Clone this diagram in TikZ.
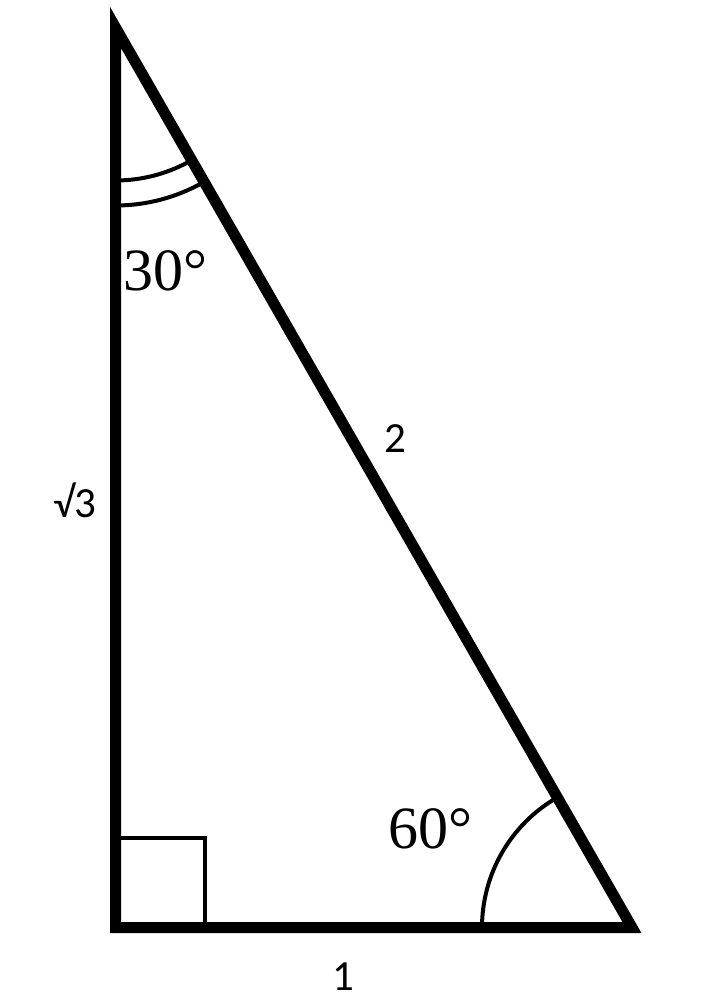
\documentclass[tikz,border=0pt]{standalone}
\usepackage{fontspec}
\setmainfont{Liberation Serif}
\newfontfamily\sansf{Carlito}
\begin{document}
\begin{tikzpicture}[x=1pt,y=-1pt,
  side/.style={line width=11pt,line join=miter},
  thin/.style={line width=4pt},
  anglab/.style={font=\fontsize{60}{60}\selectfont,inner sep=0pt},
  sidelab/.style={font=\sansf\fontsize{43}{43}\selectfont,inner sep=0pt}]
\useasboundingbox[fill=white] (0,0) rectangle (720,1007);
\coordinate (A) at (115.5,27.5);
\coordinate (B) at (115.5,927.5);
\coordinate (C) at (632,927.5);
% right angle square
\draw[thin] (115.5,838) -- (205,838) -- (205,927.5);
% 60 degree arc
\draw[thin] (482,927.5) arc[start angle=180,end angle=240,radius=150];
% 30 degree arcs
\draw[thin] (115.5,180.5) arc[start angle=90,end angle=60.15,radius=153];
\draw[thin] (115.5,205.5) arc[start angle=90,end angle=60.15,radius=178];
% triangle
\draw[side] (A) -- (B) -- (C) -- cycle;
% labels
\node[anglab] (t30) at (165.5,271) {30°};
\node[anglab] (t60) at (430,828.5) {60°};
\node[sidelab] (s2) at (395,439) {2};
\node[sidelab] (s3) at (75,500) {√3};
\node[sidelab] (s1) at (343,977) {1};
\end{tikzpicture}
\end{document}
